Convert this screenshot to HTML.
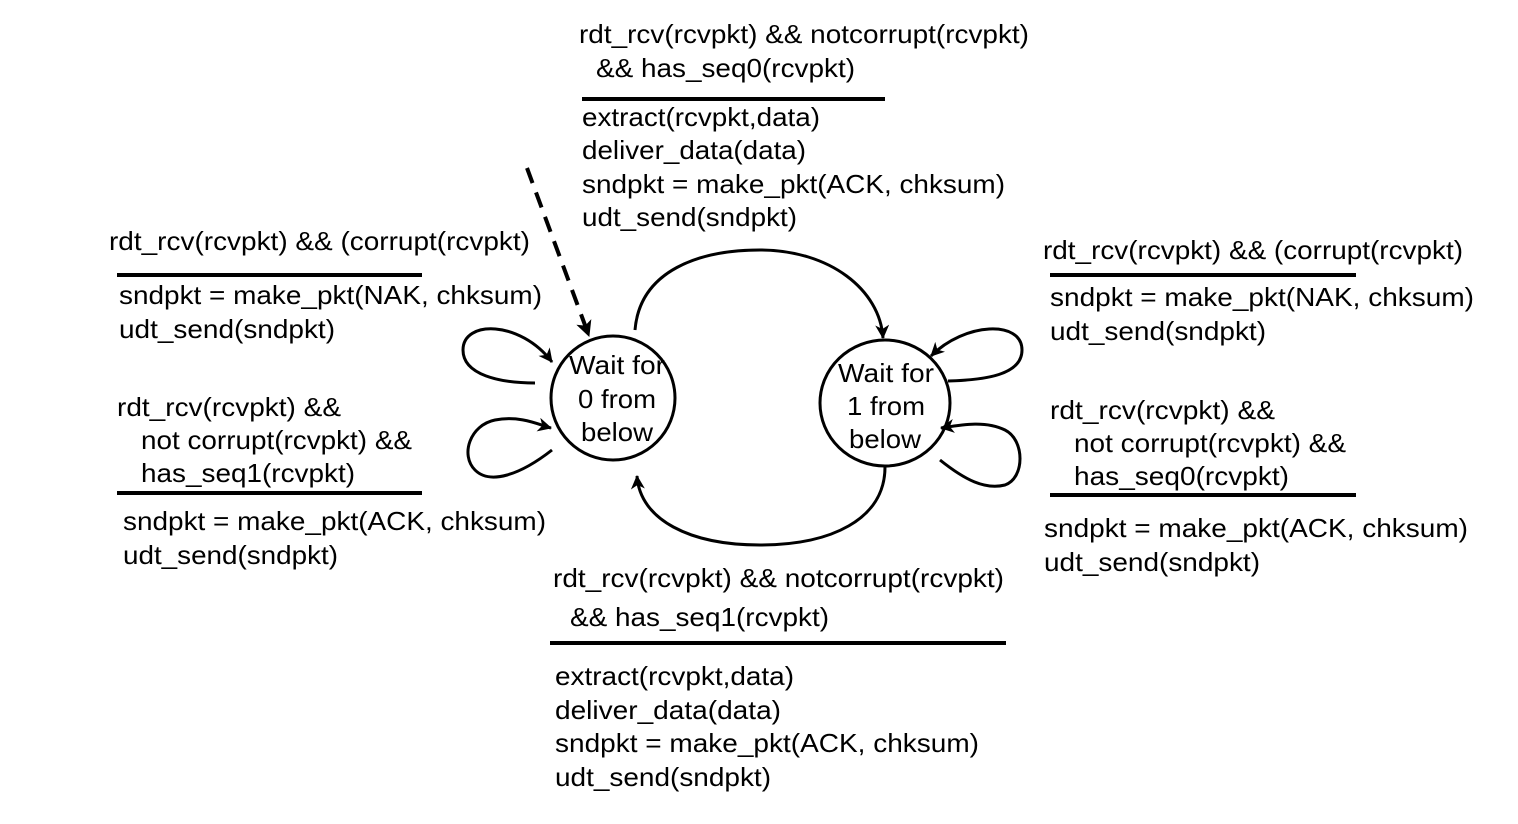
<!DOCTYPE html>
<html><head><meta charset="utf-8"><style>
html,body{margin:0;padding:0;background:#fff;}
svg{display:block;}
text{font-family:"Liberation Sans",Arial,sans-serif;font-size:26px;fill:#000;}
</style></head><body>
<svg width="1518" height="824" viewBox="0 0 1518 824" xmlns="http://www.w3.org/2000/svg">
<defs>
<marker id="a" markerWidth="14" markerHeight="14" refX="13" refY="7" orient="auto" markerUnits="userSpaceOnUse">
<path d="M0,0 L14,7 L0,14 L4,7 z" fill="#000"/>
</marker>
<marker id="b" markerWidth="16" markerHeight="16" refX="15" refY="8" orient="auto" markerUnits="userSpaceOnUse">
<path d="M0,0 L16,8 L0,16 L4,8 z" fill="#000"/>
</marker>
</defs>
<g fill="none" stroke="#000" stroke-width="3">
<ellipse cx="613" cy="398" rx="62" ry="62"/>
<ellipse cx="885" cy="403" rx="65" ry="63"/>
<path d="M635,330 C640,270 700,250 760,250 C830,250 880,290 883,338" marker-end="url(#a)"/>
<path d="M885,467 C885,520 830,545 760,545 C690,545 640,520 637,476" marker-end="url(#a)"/>
<path d="M535,383 C500,383 463,375 463,350 C463,320 520,320 552,362" marker-end="url(#a)"/>
<path d="M552,450 C520,475 490,485 475,470 C460,455 470,425 495,420 C520,415 540,425 551,428" marker-end="url(#a)"/>
<path d="M948,381 C985,380 1022,375 1022,350 C1022,320 965,322 931,356" marker-end="url(#a)"/>
<path d="M940,460 C965,480 985,490 1005,485 C1025,478 1025,440 1005,430 C985,420 960,425 941,428" marker-end="url(#a)"/>
<path d="M527,168 L589,336" stroke-width="4" stroke-dasharray="16,10" marker-end="url(#b)"/>
</g>
<g stroke="#000" stroke-width="4">
<line x1="582" y1="99" x2="885" y2="99"/>
<line x1="117" y1="275" x2="422" y2="275"/>
<line x1="117" y1="493" x2="422" y2="493"/>
<line x1="1050" y1="275" x2="1356" y2="275"/>
<line x1="1050" y1="495" x2="1356" y2="495"/>
<line x1="550" y1="643" x2="1006" y2="643"/>
</g>
<g>
<text x="579" y="43" textLength="450" lengthAdjust="spacingAndGlyphs">rdt_rcv(rcvpkt) &amp;&amp; notcorrupt(rcvpkt)</text>
<text x="596" y="77" textLength="259" lengthAdjust="spacingAndGlyphs">&amp;&amp; has_seq0(rcvpkt)</text>
<text x="582" y="126" textLength="238" lengthAdjust="spacingAndGlyphs">extract(rcvpkt,data)</text>
<text x="582" y="159" textLength="224" lengthAdjust="spacingAndGlyphs">deliver_data(data)</text>
<text x="582" y="193" textLength="423" lengthAdjust="spacingAndGlyphs">sndpkt = make_pkt(ACK, chksum)</text>
<text x="582" y="226" textLength="215" lengthAdjust="spacingAndGlyphs">udt_send(sndpkt)</text>

<text x="109" y="250" textLength="421" lengthAdjust="spacingAndGlyphs">rdt_rcv(rcvpkt) &amp;&amp; (corrupt(rcvpkt)</text>
<text x="119" y="304" textLength="423" lengthAdjust="spacingAndGlyphs">sndpkt = make_pkt(NAK, chksum)</text>
<text x="119" y="338" textLength="216" lengthAdjust="spacingAndGlyphs">udt_send(sndpkt)</text>
<text x="117" y="416" textLength="224" lengthAdjust="spacingAndGlyphs">rdt_rcv(rcvpkt) &amp;&amp;</text>
<text x="141" y="449" textLength="271" lengthAdjust="spacingAndGlyphs">not corrupt(rcvpkt) &amp;&amp;</text>
<text x="141" y="482" textLength="214" lengthAdjust="spacingAndGlyphs">has_seq1(rcvpkt)</text>
<text x="123" y="530" textLength="423" lengthAdjust="spacingAndGlyphs">sndpkt = make_pkt(ACK, chksum)</text>
<text x="123" y="564" textLength="215" lengthAdjust="spacingAndGlyphs">udt_send(sndpkt)</text>

<text x="1043" y="259" textLength="420" lengthAdjust="spacingAndGlyphs">rdt_rcv(rcvpkt) &amp;&amp; (corrupt(rcvpkt)</text>
<text x="1050" y="306" textLength="424" lengthAdjust="spacingAndGlyphs">sndpkt = make_pkt(NAK, chksum)</text>
<text x="1050" y="340" textLength="216" lengthAdjust="spacingAndGlyphs">udt_send(sndpkt)</text>
<text x="1050" y="419" textLength="225" lengthAdjust="spacingAndGlyphs">rdt_rcv(rcvpkt) &amp;&amp;</text>
<text x="1074" y="452" textLength="272" lengthAdjust="spacingAndGlyphs">not corrupt(rcvpkt) &amp;&amp;</text>
<text x="1074" y="485" textLength="215" lengthAdjust="spacingAndGlyphs">has_seq0(rcvpkt)</text>
<text x="1044" y="537" textLength="424" lengthAdjust="spacingAndGlyphs">sndpkt = make_pkt(ACK, chksum)</text>
<text x="1044" y="571" textLength="216" lengthAdjust="spacingAndGlyphs">udt_send(sndpkt)</text>

<text x="553" y="587" textLength="451" lengthAdjust="spacingAndGlyphs">rdt_rcv(rcvpkt) &amp;&amp; notcorrupt(rcvpkt)</text>
<text x="570" y="626" textLength="259" lengthAdjust="spacingAndGlyphs">&amp;&amp; has_seq1(rcvpkt)</text>
<text x="555" y="685" textLength="239" lengthAdjust="spacingAndGlyphs">extract(rcvpkt,data)</text>
<text x="555" y="719" textLength="226" lengthAdjust="spacingAndGlyphs">deliver_data(data)</text>
<text x="555" y="752" textLength="424" lengthAdjust="spacingAndGlyphs">sndpkt = make_pkt(ACK, chksum)</text>
<text x="555" y="786" textLength="216" lengthAdjust="spacingAndGlyphs">udt_send(sndpkt)</text>

<text x="569" y="374" textLength="96" lengthAdjust="spacingAndGlyphs">Wait for</text>
<text x="578" y="408" textLength="78" lengthAdjust="spacingAndGlyphs">0 from</text>
<text x="581" y="441" textLength="72" lengthAdjust="spacingAndGlyphs">below</text>
<text x="838" y="382" textLength="96" lengthAdjust="spacingAndGlyphs">Wait for</text>
<text x="847" y="415" textLength="78" lengthAdjust="spacingAndGlyphs">1 from</text>
<text x="849" y="448" textLength="72" lengthAdjust="spacingAndGlyphs">below</text>
</g>
</svg>
</body></html>
